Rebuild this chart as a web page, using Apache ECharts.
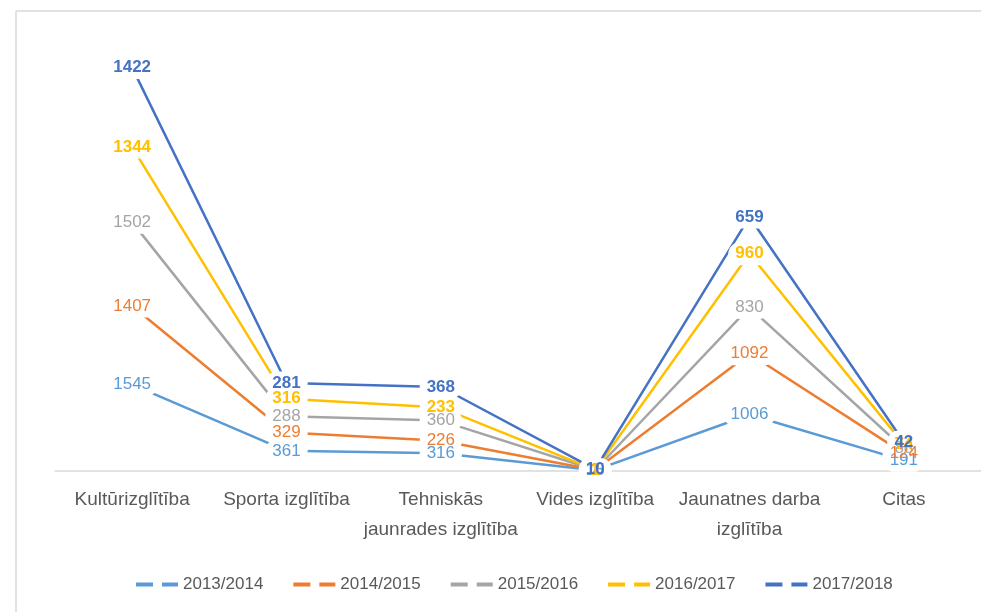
<!DOCTYPE html>
<html><head><meta charset="utf-8">
<script src="https://cdn.jsdelivr.net/npm/echarts@6/dist/echarts.min.js"></script>
<style>html,body{margin:0;padding:0;background:#fff}#c{width:981px;height:612px}</style>
</head><body><div id="c"></div>
<script>
const categories = ['Kultūrizglītība', 'Sporta izglītība', 'Tehniskās\njaunrades izglītība', 'Vides izglītība', 'Jaunatnes darba\nizglītība', 'Citas'];
const seriesNames = ['2013/2014', '2014/2015', '2015/2016', '2016/2017', '2017/2018'];
const s2013 = [1545, 361, 316, 15, 1006, 191];
const s2014 = [1407, 329, 226, 2, 1092, 124];
const s2015 = [1502, 288, 360, 1, 830, 88];
const s2016 = [1344, 316, 233, 1, 960, 74];
const s2017 = [1422, 281, 368, 10, 659, 42];
const allData = [s2013, s2014, s2015, s2016, s2017];
const colors = ['#5B9BD5', '#ED7D31', '#A5A5A5', '#FFC000', '#4472C4'];
const font = '"Liberation Sans", "Open Sans", sans-serif';
const clear = 'rgba(0,0,0,0)';

const lineSeries = seriesNames.map((n, i) => ({
  name: n, type: 'line', stack: 'lines', data: allData[i],
  symbol: 'none', lineStyle: { width: 2.5, color: colors[i] },
  itemStyle: { color: colors[i] }, z: 2
}));
const maskSeries = seriesNames.map((n, i) => ({
  name: '_mask' + i, type: 'line', stack: 'masks', data: allData[i],
  symbol: 'circle', symbolSize: 1, showSymbol: true,
  lineStyle: { width: 0, color: clear }, itemStyle: { color: clear },
  label: {
    show: true, position: 'inside', color: clear, fontSize: 17,
    fontWeight: i === 4 ? 'bold' : 'normal',
    backgroundColor: '#fff', padding: [3, 7], borderRadius: 12
  },
  labelLayout: { hideOverlap: false }, silent: true, z: 10
}));
const textSeries = seriesNames.map((n, i) => ({
  name: '_text' + i, type: 'line', stack: 'texts', data: allData[i],
  symbol: 'circle', symbolSize: 1, showSymbol: true,
  lineStyle: { width: 0, color: clear }, itemStyle: { color: clear },
  label: {
    show: true, position: 'inside', color: colors[i], fontSize: 17,
    fontWeight: i === 4 ? 'bold' : (i === 3 ? 600 : 'normal')
  },
  labelLayout: { hideOverlap: false }, silent: true, z: 11
}));

const chart = echarts.init(document.getElementById('c'));
chart.setOption({
  animation: false,
  color: colors,
  textStyle: { fontFamily: font },
  grid: { left: 55, right: -16, top: 24, bottom: 141 },
  xAxis: {
    type: 'category', data: categories, boundaryGap: true,
    axisLine: { lineStyle: { color: '#D9D9D9', width: 1.5 } },
    axisTick: { show: false },
    axisLabel: { color: '#595959', fontSize: 19, lineHeight: 30, margin: 14, interval: 0 }
  },
  yAxis: { type: 'value', min: 0, max: 8000, show: false, splitLine: { show: false } },
  legend: {
    bottom: 14, left: 131, itemGap: 30, itemWidth: 42, itemHeight: 4,
    textStyle: { color: '#595959', fontSize: 17, fontFamily: font },
    icon: 'path://M0,0h17v4h-17z M26,0h16v4h-16z',
    data: seriesNames
  },
  graphic: [
    { type: 'line', shape: { x1: 16, y1: 11, x2: 981, y2: 11 }, style: { stroke: '#D9D9D9', lineWidth: 1.5 } },
    { type: 'line', shape: { x1: 16, y1: 11, x2: 16, y2: 612 }, style: { stroke: '#D9D9D9', lineWidth: 1.5 } }
  ],
  series: lineSeries.concat(maskSeries, textSeries)
});
</script></body></html>
